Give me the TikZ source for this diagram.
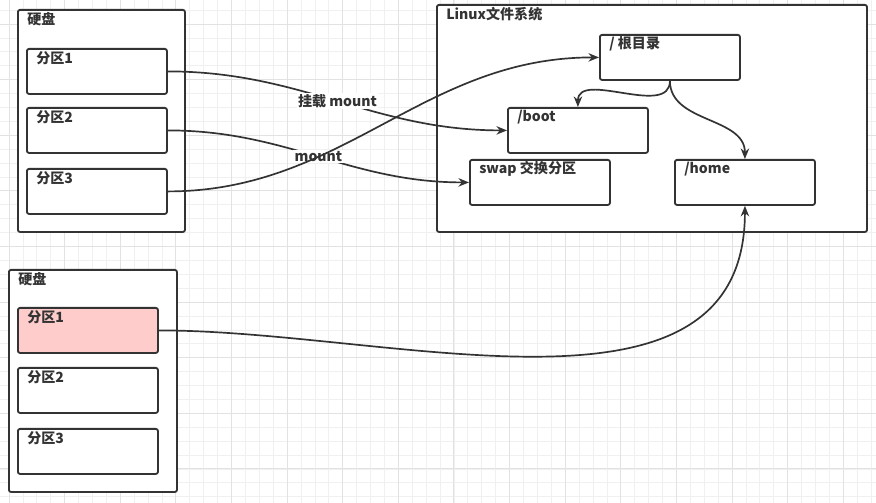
\documentclass[tikz,border=0pt]{standalone}
\usepackage{fontspec}
\setmainfont{Noto Sans CJK SC}
\usetikzlibrary{arrows.meta}

\definecolor{linec}{HTML}{333333}
\definecolor{pinkfill}{HTML}{FFCCCC}
\definecolor{gridminor}{HTML}{F0F0F0}
\definecolor{gridmajor}{HTML}{E2E2E2}

\begin{document}
\begin{tikzpicture}[x=0.025cm, y=-0.025cm,
  box/.style={draw=linec, line width=1.3pt, rounded corners=1.5pt, fill=white,
    anchor=north west, inner sep=0pt, minimum width=3.5cm, minimum height=1.125cm},
  tag/.style={anchor=west, inner sep=0pt, xshift=0.25cm, yshift=-0.25cm,
    font=\fontsize{10}{12}\selectfont\bfseries, text=linec},
  link/.style={draw=linec, line width=1.2pt, -{Stealth[length=7.5pt, width=6pt]}},
  mnt/.style={fill=white, inner sep=1pt, font=\fontsize{10}{12}\selectfont\bfseries, text=linec}]
\useasboundingbox (0,0) rectangle (876,503);
\fill[white] (0,0) rectangle (876,503);
% background grid
\begin{scope}
\clip (0,0) rectangle (876,503);
\begin{scope}[shift={(9,24)}]
\draw[gridminor, line width=0.5pt, step=0.3475cm] (-9,479) grid (867,-24);
\draw[gridmajor, line width=0.6pt, step=1.39cm] (-9,479) grid (867,-24);
\end{scope}
\end{scope}

% first disk
\node[box, minimum width=4.175cm, minimum height=5.55cm, label={[tag]north west:硬盘}] (disk) at (17,9) {};
\node[box, label={[tag]north west:分区1}] (p1) at (26,48) {};
\node[box, label={[tag]north west:分区2}] (p2) at (26,107) {};
\node[box, label={[tag]north west:分区3}] (p3) at (26,168) {};

% file system
\node[box, minimum width=10.75cm, minimum height=5.675cm, label={[tag]north west:Linux文件系统}] (fs) at (436,4) {};
\node[box, label={[tag]north west:/ 根目录}] (root) at (599,34) {};
\node[box, label={[tag]north west:/boot}] (boot) at (507,107) {};
\node[box, label={[tag]north west:swap 交换分区}] (swap) at (469,159) {};
\node[box, label={[tag]north west:/home}] (home) at (674,159) {};

% second disk
\node[box, minimum width=4.2cm, minimum height=5.55cm, label={[tag]north west:硬盘}] (disk2) at (8,269) {};
\node[box, fill=pinkfill, label={[tag]north west:分区1}] (d2p1) at (17,307) {};
\node[box, label={[tag]north west:分区2}] (d2p2) at (17,367) {};
\node[box, label={[tag]north west:分区3}] (d2p3) at (17,428) {};

% mounts
\draw[link] (p1.east) to[out=0, in=180] node[mnt] {挂载 mount} (boot.west);
\draw[link] (p2.east) to[out=0, in=180] node[mnt] {mount} (swap.west);
\draw[link] (p3.east) to[out=0, in=180] (root.west);
\draw[link] (root.south) to[out=-90, in=90] (boot.north);
\draw[link] (root.south) to[out=-90, in=90] (home.north);
\draw[link] (d2p1.east) to[out=0, in=-90] (home.south);
\end{tikzpicture}
\end{document}
